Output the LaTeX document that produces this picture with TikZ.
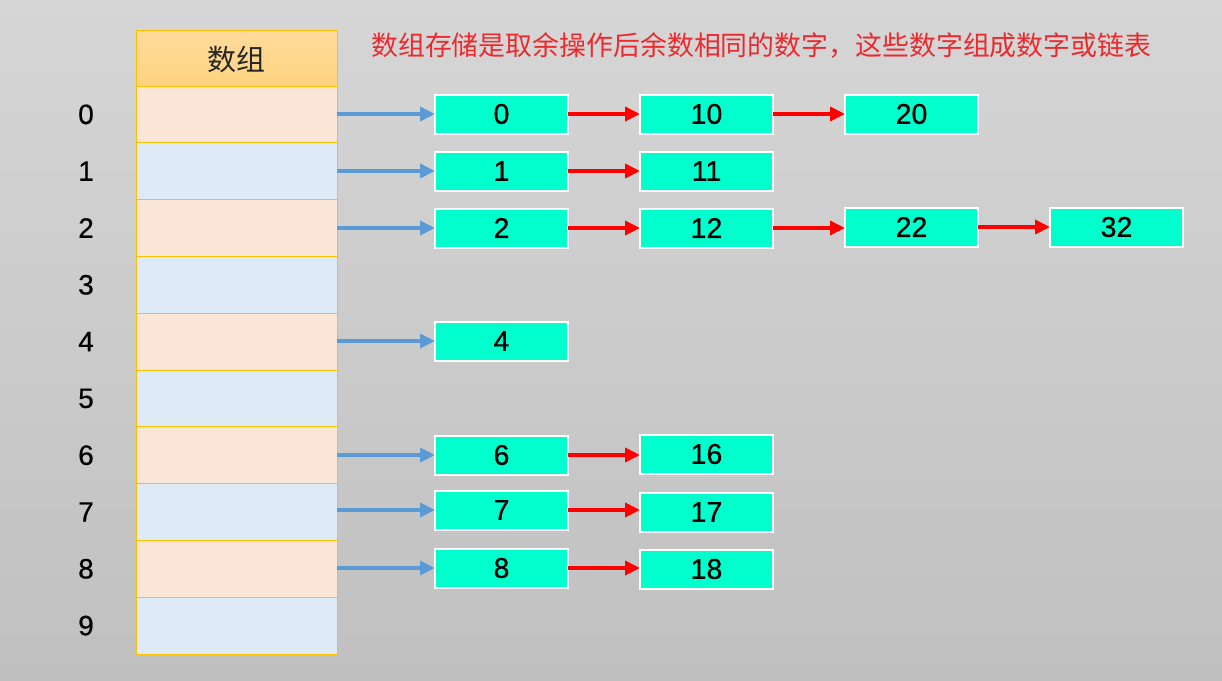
\documentclass[tikz,border=0pt]{standalone}
\usepackage{fontspec}
\setmainfont{Liberation Sans}
\newfontfamily\cjk{Noto Sans CJK SC}
\newfontfamily\numfont[FakeBold=0.6]{Liberation Sans}
\usetikzlibrary{arrows.meta}
\definecolor{bgtop}{HTML}{D6D6D6}
\definecolor{bgbot}{HTML}{C0C0C0}
\definecolor{hdrtop}{HTML}{FFDB9C}
\definecolor{hdrbot}{HTML}{FFD37F}
\definecolor{gold}{HTML}{FFC000}
\definecolor{peach}{HTML}{FBE5D6}
\definecolor{pale}{HTML}{DEEBF7}
\definecolor{aqua}{HTML}{00FFCC}
\definecolor{arrblue}{HTML}{5B9BD5}
\definecolor{titlered}{HTML}{EC2A2E}
\tikzset{
  cellbox/.style={draw=gold, line width=1pt, minimum width=201pt, minimum height=56.8pt, inner sep=0pt, outer sep=0pt, anchor=north west},
  idx/.style={font=\numfont\fontsize{28}{30}\selectfont, text=black, inner sep=0pt},
  nodebox/.style={fill=aqua, draw=white, line width=2pt, minimum width=133pt, minimum height=39pt, inner sep=0pt, outer sep=0pt, font=\numfont\fontsize{28.5}{30}\selectfont},
  bluearr/.style={draw=arrblue, line width=4pt, -{Triangle[length=15pt,width=14pt]}},
  redarr/.style={draw=red, line width=4pt, -{Triangle[length=15pt,width=14pt]}},
}
\begin{document}
\begin{tikzpicture}[x=1pt,y=-1pt]
\useasboundingbox (0,0) rectangle (1222,680);
\shade[top color=bgtop, bottom color=bgbot] (0,0) rectangle (1222,680);
% header
\node[cellbox, top color=hdrtop, bottom color=hdrbot, minimum height=56pt] (hdr) at (136,30) {};
\node[font=\cjk\fontsize{29}{30}\selectfont, text=black!85] (hdrtext) at ([yshift=-1.5pt]hdr.center) {数组};
% cells
\foreach \i in {0,...,9} {
  \pgfmathtruncatemacro{\r}{mod(\i,2)}
  \ifnum\r=0
    \node[cellbox, fill=peach] (c\i) at (136,86+56.8*\i) {};
  \else
    \node[cellbox, fill=pale] (c\i) at (136,86+56.8*\i) {};
  \fi
  \node[idx] (l\i) at (86,114.4+56.8*\i) {\i};
}
% title
\node[font=\cjk\fontsize{26.9}{30}\selectfont, text=titlered, anchor=west, inner sep=0pt] (title) at (371,45.5) {数组存储是取余操作后余数相同的数字，这些数字组成数字或链表};
% linked nodes
\node[nodebox] (b0a) at (501.5,114) {0};
\node[nodebox] (b0b) at (706.5,114) {10};
\node[nodebox] (b0c) at (911.5,114) {20};
\node[nodebox] (b1a) at (501.5,171) {1};
\node[nodebox] (b1b) at (706.5,171) {11};
\node[nodebox] (b2a) at (501.5,228) {2};
\node[nodebox] (b2b) at (706.5,228) {12};
\node[nodebox] (b2c) at (911.5,227) {22};
\node[nodebox] (b2d) at (1116.5,227) {32};
\node[nodebox] (b4a) at (501.5,341) {4};
\node[nodebox] (b6a) at (501.5,455) {6};
\node[nodebox] (b6b) at (706.5,454) {16};
\node[nodebox] (b7a) at (501.5,510) {7};
\node[nodebox] (b7b) at (706.5,512) {17};
\node[nodebox] (b8a) at (501.5,568) {8};
\node[nodebox] (b8b) at (706.5,569) {18};
% blue arrows
\foreach \i in {0,1,2,4,6,7,8} {
  \draw[bluearr] (c\i.east |- b\i a.west) -- (b\i a.west);
}
% red arrows
\draw[redarr] (b0a.east) -- (b0b.west |- b0a.east);
\draw[redarr] (b0b.east) -- (b0c.west |- b0b.east);
\draw[redarr] (b1a.east) -- (b1b.west |- b1a.east);
\draw[redarr] (b2a.east) -- (b2b.west |- b2a.east);
\draw[redarr] (b2b.east) -- (b2c.west |- b2b.east);
\draw[redarr] (b2c.east) -- (b2d.west |- b2c.east);
\draw[redarr] (b6a.east) -- (b6b.west |- b6a.east);
\draw[redarr] (b7a.east) -- (b7b.west |- b7a.east);
\draw[redarr] (b8a.east) -- (b8b.west |- b8a.east);
\end{tikzpicture}
\end{document}
